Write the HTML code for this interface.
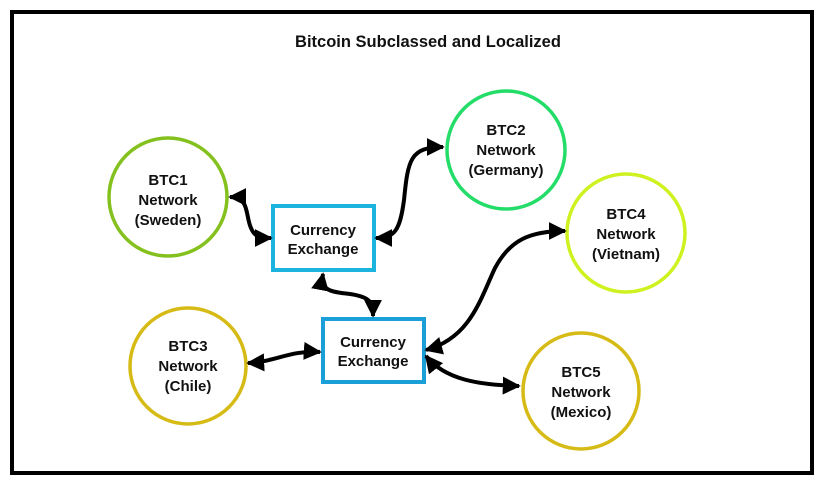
<!DOCTYPE html>
<html><head><style>
html,body{margin:0;padding:0;background:#fff;}
svg{display:block;}
text{font-family:"Liberation Sans",Arial,sans-serif;font-weight:bold;fill:#111;}
</style></head><body>
<svg width="824" height="485" viewBox="0 0 824 485" xmlns="http://www.w3.org/2000/svg">
<defs>
<marker id="a" viewBox="0 0 10 10" refX="9" refY="5" markerWidth="4.5" markerHeight="4.5" orient="auto-start-reverse" markerUnits="strokeWidth">
<path d="M0,0 L10,5 L0,10 z" fill="#000"/>
</marker>
</defs>
<rect x="12" y="12" width="800" height="461" fill="#fff" stroke="#000" stroke-width="4"/>
<text x="428" y="47" text-anchor="middle" font-size="16.5">Bitcoin Subclassed and Localized</text>

<g fill="none" stroke-width="3.5">
<circle cx="168" cy="197" r="59" stroke="#84c11e"/>
<circle cx="506" cy="150" r="59" stroke="#24dc68"/>
<circle cx="626" cy="233" r="59" stroke="#cdf220"/>
<circle cx="188" cy="366" r="58" stroke="#d6bb16"/>
<circle cx="581" cy="391" r="58" stroke="#d6bb16"/>
</g>
<rect x="273" y="206" width="101" height="64" fill="#fff" stroke="#1cb3df" stroke-width="4"/>
<rect x="323" y="319" width="101" height="63" fill="#fff" stroke="#1a9fd8" stroke-width="4"/>

<g font-size="15" text-anchor="middle">
<text x="168" y="185">BTC1</text><text x="168" y="205">Network</text><text x="168" y="225">(Sweden)</text>
<text x="506" y="135">BTC2</text><text x="506" y="155">Network</text><text x="506" y="175">(Germany)</text>
<text x="626" y="219">BTC4</text><text x="626" y="239">Network</text><text x="626" y="259">(Vietnam)</text>
<text x="188" y="351">BTC3</text><text x="188" y="371">Network</text><text x="188" y="391">(Chile)</text>
<text x="581" y="377">BTC5</text><text x="581" y="397">Network</text><text x="581" y="417">(Mexico)</text>
<text x="323" y="235">Currency</text><text x="323" y="254">Exchange</text>
<text x="373" y="347">Currency</text><text x="373" y="366">Exchange</text>
</g>

<g fill="none" stroke="#000" stroke-width="4" marker-start="url(#a)" marker-end="url(#a)">
<path d="M230,197 C250,197 245,215 251,228 C255,238 262,238 271,238"/>
<path d="M376,238 C395,238 400,230 404,200 C408,160 410,147 443,147"/>
<path d="M323,274 C320,290 330,292 350,294 C370,297 373,302 373,316"/>
<path d="M248,363 C275,362 290,350 320,352"/>
<path d="M426,350 C470,338 480,300 495,268 C510,240 530,231 565,231"/>
<path d="M426,356 C445,380 480,385 519,386"/>
</g>
</svg>
</body></html>
